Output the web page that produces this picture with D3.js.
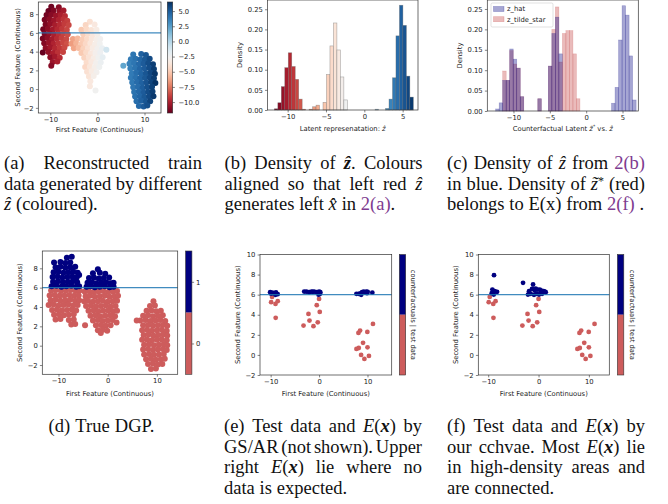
<!DOCTYPE html>
<html>
<head>
<meta charset="UTF-8">
<title>Latent space figure</title>
<style>
  body { margin: 0; background: #fff; }
  svg { display: block; }
  .cap { font-family: "Liberation Serif", serif; font-size: 18.5px; fill: #111; }
  .lbl { font-family: "DejaVu Sans", sans-serif; font-size: 6.8px; fill: #222; }
</style>
<script src="https://cdn.jsdelivr.net/npm/d3@7"></script>
</head>
<body>
<script>
// ---------- data ----------
// panel (a): reconstructed train data, "x,y,z" with z = latent value used for colour
const aRed = `-9.8,8.8,-11.6 -8.2,8.75,-11.0
-10.4,8.35,-11.7 -9.3,8.4,-11.2 -8.0,8.3,-10.6 -7.2,8.4,-10.2
-10.8,7.9,-11.5 -9.8,7.95,-11.0 -8.8,7.85,-10.5 -7.8,7.9,-10.0 -6.9,7.8,-9.6
-11.2,7.4,-11.4 -10.2,7.45,-10.9 -9.2,7.35,-10.4 -8.2,7.4,-9.9 -7.2,7.45,-9.4 -6.4,7.3,-9.0
-11.0,6.9,-11.3 -10.0,6.95,-10.7 -9.0,6.85,-10.1 -8.0,6.9,-9.6 -7.0,6.95,-9.1 -6.1,6.85,-8.8
-11.5,6.4,-11.5 -10.5,6.45,-10.9 -9.5,6.35,-10.3 -8.5,6.4,-9.7 -7.5,6.45,-9.2 -6.5,6.35,-8.8
-11.2,5.9,-11.2 -10.2,5.95,-10.6 -9.2,5.85,-10.0 -8.2,5.9,-9.4 -7.2,5.95,-8.9 -6.3,5.85,-8.6
-11.6,5.4,-11.4 -10.6,5.45,-10.8 -9.6,5.35,-10.2 -8.6,5.4,-9.6 -7.6,5.45,-9.0 -6.6,5.35,-8.7
-11.3,4.9,-11.1 -10.3,4.95,-10.5 -9.3,4.85,-9.9 -8.3,4.9,-9.3 -7.3,4.95,-8.8 -6.5,4.85,-8.5
-11.0,4.4,-10.8 -10.0,4.45,-10.3 -9.0,4.35,-9.7 -8.0,4.4,-9.2 -7.0,4.45,-8.7
-11.6,3.9,-11.8 -10.4,3.95,-10.6 -9.4,3.85,-10.0 -8.4,3.9,-9.4 -7.3,3.95,-8.9
-10.0,3.4,-10.8 -9.0,3.45,-10.2 -8.0,3.35,-9.6
-9.5,2.9,-10.5 -8.5,2.95,-10.0 -9.8,2.5,-11.0`;
const aLight = `-1.6,7.2,-4.0 -2.5,6.85,-4.5 -0.6,6.9,-3.5
-3.4,6.35,-5.0 -2.3,6.4,-4.3 -1.3,6.3,-3.8 -0.2,6.35,-3.2
-3.0,5.85,-4.8 -2.0,5.9,-4.2 -1.0,5.8,-3.6 0.0,5.85,-3.0
-5.2,5.35,-6.3 -4.2,5.4,-5.6 -3.2,5.3,-4.9 -2.2,5.35,-4.3 -1.2,5.4,-3.6 -0.2,5.3,-3.0 0.6,5.35,-2.6
-5.5,4.85,-6.5 -4.5,4.9,-5.8 -3.5,4.8,-5.0 -2.5,4.85,-4.4 -1.5,4.9,-3.7 -0.5,4.8,-3.1 0.5,4.85,-2.5
-5.0,4.35,-6.2 -4.0,4.4,-5.5 -3.0,4.3,-4.7 -2.0,4.35,-4.0 -1.0,4.4,-3.3 0.0,4.3,-2.7 1.0,4.35,-2.1
-3.4,3.85,-5.0 -2.4,3.9,-4.3 -1.4,3.8,-3.6 -0.4,3.85,-2.9 0.6,3.9,-2.3
-2.8,3.35,-4.6 -1.8,3.4,-3.9 -0.8,3.3,-3.2 0.2,3.35,-2.5 1.1,3.4,-1.9
-2.3,2.85,-4.2 -1.3,2.9,-3.5 -0.3,2.8,-2.8 0.7,2.85,-2.2
-2.6,2.35,-4.4 -1.6,2.4,-3.7 -0.6,2.3,-3.0 0.4,2.35,-2.4
-2.2,1.85,-4.0 -1.2,1.9,-3.3 -0.2,1.8,-2.7
-1.8,1.35,-3.8 -0.8,1.4,-3.0 -1.5,0.85,-3.5
-1.6,0.3,-3.5 -0.4,-0.15,-2.5 1.9,4.2,-1.0`;
const aBlue = `7.6,3.7,4.0 9.3,3.75,4.8 10.3,3.65,5.2
7.1,3.2,3.8 8.1,3.25,4.2 9.1,3.15,4.6 10.1,3.2,5.1 11.1,3.25,5.6
6.8,2.7,3.6 7.8,2.75,4.0 8.8,2.65,4.5 9.8,2.7,5.0 10.8,2.75,5.5 11.8,2.65,6.0
7.0,2.2,3.7 8.0,2.25,4.1 9.0,2.15,4.6 10.0,2.2,5.0 11.0,2.25,5.5 12.0,2.15,6.1
7.3,1.7,3.8 8.3,1.75,4.3 9.3,1.65,4.7 10.3,1.7,5.2 11.3,1.75,5.7 12.2,1.65,6.3
7.1,1.2,3.8 8.1,1.25,4.2 9.1,1.15,4.7 10.1,1.2,5.1 11.1,1.25,5.6 12.0,1.15,6.1
7.4,0.7,3.9 8.4,0.75,4.4 9.4,0.65,4.8 10.4,0.7,5.3 11.4,0.75,5.8 12.3,0.65,6.4
7.6,0.2,4.0 8.6,0.25,4.4 9.6,0.15,4.9 10.6,0.2,5.4 11.6,0.25,5.9
7.8,-0.3,4.1 8.8,-0.25,4.5 9.8,-0.35,5.0 10.8,-0.3,5.5 11.7,-0.25,6.0
8.0,-0.8,4.2 9.0,-0.75,4.6 10.0,-0.85,5.1 11.0,-0.8,5.6 11.9,-0.75,6.2
8.3,-1.3,4.3 9.3,-1.25,4.8 10.3,-1.35,5.2 11.2,-1.3,5.8
8.8,-1.8,4.5 9.8,-1.85,5.0 10.6,-1.75,5.4 5.5,2.5,2.2`;

// panel (b): density of z_hat, 40 bins
const bBinStart = -11.73, bBinWidth = 0.453;
const bDensity = [0.003, 0.018, 0.058, 0.105, 0.142, 0.108, 0.076, 0.027, 0.002, 0,
  0.002, 0.008, 0.012, 0, 0.019, 0.088, 0.159, 0.216, 0.149, 0.082,
  0.025, 0, 0, 0, 0, 0, 0, 0, 0, 0.002,
  0, 0, 0.004, 0.027, 0.080, 0.184, 0.260, 0.210, 0.084, 0.032];

// panel (c): z_hat vs z_tilde_star, 40 bins
const cBinStart = -12.45, cBinWidth = 0.483;
const cZHat = [0.005, 0.02, 0.075, 0.075, 0.152, 0.127, 0.105, 0.035, 0, 0,
  0, 0, 0.03, 0, 0, 0.11, 0.19, 0.23, 0.14, 0,
  0, 0, 0, 0, 0, 0, 0, 0, 0, 0,
  0, 0, 0, 0.019, 0.058, 0.174, 0.258, 0.235, 0.135, 0.027];
const cZTilde = [0, 0, 0.098, 0.075, 0.148, 0.115, 0.105, 0.035, 0, 0,
  0, 0, 0.03, 0, 0, 0.11, 0.20, 0.255, 0.12, 0.19,
  0.197, 0.197, 0.14, 0.03, 0, 0, 0, 0, 0, 0,
  0, 0, 0, 0, 0, 0, 0, 0, 0, 0];
const cSeries = ["z_hat", "z_tilde_star"];

// panel (d): true DGP, "x,y"
const dLeft = `-8.3,9.1 -7.3,9.2 -10.9,8.6 -9.6,8.65 -8.6,8.55 -7.6,8.6
-10.6,8.1 -9.6,8.15 -8.6,8.05 -7.6,8.1 -6.6,8.15
-11.0,7.6 -10.0,7.65 -9.0,7.55 -8.0,7.6 -7.0,7.65 -6.1,7.55
-11.2,7.1 -10.2,7.15 -9.2,7.05 -8.2,7.1 -7.2,7.15 -6.3,7.05 -5.8,7.3
-11.1,6.6 -10.1,6.65 -9.1,6.55 -8.1,6.6 -7.1,6.65 -6.2,6.55
-11.4,6.15 -10.4,6.2 -9.4,6.1 -8.4,6.15 -7.4,6.2 -6.4,6.1 -5.8,6.15
-11.5,5.7 -10.5,5.75 -9.5,5.65 -8.5,5.7 -7.5,5.75 -6.5,5.65 -5.7,5.7
-11.8,5.2 -10.8,5.25 -9.8,5.15 -8.8,5.2 -7.8,5.25 -6.8,5.15 -5.9,5.2
-11.6,4.7 -10.6,4.75 -9.6,4.65 -8.6,4.7 -7.6,4.75 -6.6,4.65 -5.8,4.7
-12.0,4.2 -11.0,4.25 -10.0,4.15 -9.0,4.2 -8.0,4.25 -7.0,4.15 -6.1,4.2
-11.3,3.7 -10.3,3.75 -9.3,3.65 -8.3,3.7 -7.3,3.75 -6.4,3.65
-10.9,3.2 -9.9,3.25 -8.9,3.15 -7.9,3.2 -6.9,3.25
-10.6,2.7 -9.6,2.75 -7.9,2.65 -6.9,2.7 -7.4,2.2 -6.6,2.25`;
const dMid = `-2.0,7.9 -3.0,7.5 -1.6,7.55 -0.5,7.45
-3.8,7.0 -2.8,7.05 -1.8,6.95 -0.8,7.0 0.3,7.05
-4.1,6.5 -3.2,6.55 -2.3,6.45 -1.3,6.5 -0.3,6.55 0.6,6.45 1.2,6.5
-4.3,6.1 -3.5,6.15 -2.6,6.05 -1.6,6.1 -0.6,6.15 0.4,6.05 1.2,6.1
-4.7,5.6 -3.9,5.65 -2.9,5.55 -1.9,5.6 -0.9,5.65 0.1,5.55 1.1,5.6 1.9,5.65
-4.5,5.1 -3.6,5.15 -2.6,5.05 -1.6,5.1 -0.6,5.15 0.4,5.05 1.4,5.1 2.1,5.15
-4.8,4.6 -4.0,4.65 -3.0,4.55 -2.0,4.6 -1.0,4.65 0.0,4.55 1.0,4.6 1.9,4.65
-4.4,4.1 -3.4,4.15 -2.4,4.05 -1.4,4.1 -0.4,4.15 0.6,4.05 1.6,4.1
-3.9,3.6 -2.9,3.65 -1.9,3.55 -0.9,3.6 0.1,3.65 1.1,3.55 1.9,3.6
-3.5,3.1 -2.5,3.15 -1.5,3.05 -0.5,3.1 0.5,3.15 1.5,3.05
-3.0,2.6 -2.0,2.65 -1.0,2.55 0.0,2.6 1.0,2.65 1.8,2.4
-4.6,2.1 -2.4,2.1 -1.4,2.15 -0.4,2.05 0.6,2.1
-2.0,1.6 -1.0,1.65 -0.1,1.55 -1.4,1.3`;
const dRight = `9.3,4.6 8.6,4.1 9.6,4.15
7.9,3.6 8.9,3.65 9.9,3.55 10.8,3.6
7.2,3.1 8.2,3.15 9.2,3.05 10.2,3.1 11.2,3.15
6.6,2.6 7.7,2.65 8.7,2.55 9.7,2.6 10.7,2.65 11.7,2.55 5.9,2.6
7.2,2.1 8.2,2.15 9.2,2.05 10.2,2.1 11.2,2.15 12.1,2.05
7.0,1.6 8.0,1.65 9.0,1.55 10.0,1.6 11.0,1.65 12.0,1.55
7.3,1.1 8.3,1.15 9.3,1.05 10.3,1.1 11.3,1.15 12.1,1.05
7.0,0.6 8.0,0.65 9.0,0.55 10.0,0.6 11.0,0.65 12.0,0.55
7.4,0.1 8.4,0.15 9.4,0.05 10.4,0.1 11.4,0.15 12.1,0.05
7.2,-0.4 8.2,-0.35 9.2,-0.45 10.2,-0.4 11.2,-0.35 12.0,-0.45
7.4,-0.9 8.4,-0.85 9.4,-0.95 10.4,-0.9 11.4,-0.85
7.8,-1.4 8.8,-1.35 9.8,-1.45 10.8,-1.4 11.6,-1.35
8.2,-1.9 9.2,-1.85 10.2,-1.95 11.1,-1.9 8.8,-2.4 9.8,-2.35`;
const threshold = 6;

// panels (e), (f): test data (same in both) and counterfactuals
const testData = [[-9.7,5.78],[-9.9,5.25],[-9.0,5.08],[-8.54,5.35],[-8.96,3.69],
  [0.0,5.58],[-0.48,4.95],[0.14,4.28],[-2.19,4.08],[-1.98,3.42],[-3.21,2.92],[-1.16,2.86],[-0.27,3.25],
  [11.13,3.09],[8.13,2.19],[8.47,2.42],[9.97,2.29],[9.08,1.2],[7.72,0.6],[8.2,0.69],[10.0,0.76],
  [8.68,0.0],[9.36,-0.4],[10.3,-0.1]];
const cfGSAR = [[-10.1,6.25],[-9.6,6.2],[-9.2,6.12],[-8.9,6.22],[-8.55,6.05],[-9.9,6.1],[-9.0,5.98],
  [-3.07,6.31],[-2.6,6.3],[-2.05,6.25],[-1.57,6.31],[-1.02,6.3],[-0.48,6.25],[0.0,6.31],[0.2,6.08],
  [-0.1,6.0],[-1.3,6.28],[0.25,6.25],
  [7.72,6.08],[8.2,6.08],[8.54,6.12],[8.88,6.25],[9.22,6.31],[9.77,6.31],[10.04,6.28],[11.0,6.2],
  [9.5,6.2],[8.7,5.98],[9.9,6.15]];
const cfCCHVAE = [[-8.85,7.94],[-9.17,6.51],[-8.7,6.34],[-8.24,6.28],[-8.9,6.01],[-9.3,6.15],
  [-3.08,7.18],[-1.09,7.01],[-1.89,6.34],[-1.29,6.58],[-0.76,6.41],[-0.23,6.51],[0.24,6.51],
  [0.57,6.41],[1.03,6.34],[1.43,6.24],[-2.1,6.01],[-1.56,6.08],[-0.9,5.98],[-0.37,6.08],
  [0.1,6.01],[0.7,6.08],[1.23,6.3],[-0.57,6.61],[0.43,6.24]];

// ticks
const featXTicks = [-10, 0, 10];
const featYTicks = [-2, 0, 2, 4, 6, 8];
const efYTicks = [-2, 0, 2, 4, 6, 8, 10];
const latentXTicks = [-10, -5, 0, 5];
const densTicks = [0, 0.05, 0.10, 0.15, 0.20, 0.25];
const cbarTicks = [5, 2.5, 0, -2.5, -5, -7.5, -10];

// captions: <i> italic, <b> bold italic, <l> link, <s> superscript
const capTop = [
  {x0: 4, x1: 202, lines: [["(a)", "Reconstructed", "train"], ["data", "generated", "by", "different"], ["<i>z\u0302</i>", "(coloured)."]]},
  {x0: 224.5, x1: 422.5, lines: [["(b)", "Density", "of", "<b>z\u0302</b>.", "Colours"], ["aligned", "so", "that", "left", "red", "<i>z\u0302</i>"], ["generates", "left", "<i>x\u0302</i>", "in", "<l>2(a)</l>."]]},
  {x0: 447, x1: 645, lines: [["(c)", "Density", "of", "<i>z\u0302</i>", "from", "<l>2(b)</l>"], ["in", "blue.", "Density", "of", "<i>z\u0303</i><s>*</s>", "(red)"], ["belongs", "to", "E(x)", "from", "<l>2(f)</l>", "."]]}
];
const capBottom = [
  {x0: 224, x1: 422, lines: [["(e)", "Test", "data", "and", "<i>E</i>(<b>x</b>)", "by"], ["GS/AR", "(not", "shown).", "Upper"], ["right", "<i>E</i>(<b>x</b>)", "lie", "where", "no"], ["data", "is", "expected."]]},
  {x0: 447, x1: 645, lines: [["(f)", "Test", "data", "and", "<i>E</i>(<b>x</b>)", "by"], ["our", "cchvae.", "Most", "<i>E</i>(<b>x</b>)", "lie"], ["in", "high-density", "areas", "and"], ["are", "connected."]]}
];

// ---------- drawing ----------
const parsePts = s => s.trim().split(/\s+/).map(p => p.split(',').map(Number));
const NAVY = "#000080", IRED = "#cd5c5c", C0 = "#1f77b4";

const svg = d3.select('body').append('svg').attr('width', 668).attr('height', 504);

function frame(x, y) {
  const [x0, x1] = x.range(), [y0, y1] = [y.range()[1], y.range()[0]];
  svg.append('rect').attr('x', x0).attr('y', y0).attr('width', x1 - x0).attr('height', y1 - y0)
    .attr('fill', 'none').attr('stroke', '#333').attr('stroke-width', 0.7);
}
function styleAxis(g) {
  g.select('.domain').remove();
  g.selectAll('.tick line').attr('stroke', '#333').attr('stroke-width', 0.6);
  g.selectAll('.tick text').attr('class', 'lbl').attr('fill', null);
}
function axes(x, y, xt, yt, yfmt) {
  svg.append('g').attr('transform', `translate(0,${y.range()[0]})`)
    .call(d3.axisBottom(x).tickValues(xt).tickSize(2.4).tickPadding(1.6)).call(styleAxis);
  const ya = d3.axisLeft(y).tickValues(yt).tickSize(2.4).tickPadding(2.2);
  if (yfmt) ya.tickFormat(d3.format(yfmt));
  svg.append('g').attr('transform', `translate(${x.range()[0]},0)`).call(ya).call(styleAxis);
}
// parts: [text, italic, superscript]
function xlabel(x, ypos, parts) {
  const t = svg.append('text').attr('class', 'lbl').attr('x', (x.range()[0] + x.range()[1]) / 2)
    .attr('y', ypos).attr('text-anchor', 'middle').attr('dy', '0.35em');
  let up = false;
  parts.forEach(p => {
    const s = t.append('tspan').text(p[0]);
    if (p[1]) s.attr('font-style', 'italic');
    if (p[2]) { s.attr('font-size', '4.6px').attr('dy', -2.5); up = true; }
    else if (up) { s.attr('dy', 2.5); up = false; }
  });
}
function ylabel(xpos, y, txt) {
  const yc = (y.range()[0] + y.range()[1]) / 2;
  svg.append('text').attr('class', 'lbl').attr('transform', `translate(${xpos},${yc}) rotate(-90)`)
    .attr('text-anchor', 'middle').attr('dy', '0.35em').text(txt);
}
function hline(x, y, v) {
  svg.append('line').attr('x1', x.range()[0]).attr('x2', x.range()[1]).attr('y1', y(v)).attr('y2', y(v))
    .attr('stroke', C0).attr('stroke-width', 1.2).attr('stroke-opacity', 0.85);
}

// ---- (a) ----
{
  const x = d3.scaleLinear().domain([-12.55, 13.5]).range([38.3, 161]);
  const y = d3.scaleLinear().domain([-2.55, 9.3]).range([113, 2]);
  const col = d3.scaleSequential(d3.interpolateRdBu).domain([-11.8, 6.5]);
  const pts = [...parsePts(aRed), ...parsePts(aLight), ...parsePts(aBlue)];
  svg.append('g').selectAll('circle').data(pts).join('circle')
    .attr('cx', d => x(d[0])).attr('cy', d => y(d[1])).attr('r', 3).attr('fill', d => col(d[2]));
  hline(x, y, threshold);
  frame(x, y);
  axes(x, y, featXTicks, featYTicks);
  xlabel(x, 130, [["First Feature (Continuous)"]]);
  ylabel(18, y, "Second Feature (Continuous)");
  // colorbar
  const cy = d3.scaleLinear().domain(col.domain()).range([113, 2]);
  const grad = svg.append('defs').append('linearGradient').attr('id', 'rdbu')
    .attr('x1', 0).attr('y1', 1).attr('x2', 0).attr('y2', 0);
  d3.range(0, 1.0001, 0.05).forEach(t => grad.append('stop').attr('offset', t).attr('stop-color', d3.interpolateRdBu(t)));
  svg.append('rect').attr('x', 167.3).attr('y', 2).attr('width', 5.4).attr('height', 111)
    .attr('fill', 'url(#rdbu)').attr('stroke', '#333').attr('stroke-width', 0.6);
  svg.append('g').attr('transform', 'translate(172.7,0)')
    .call(d3.axisRight(cy).tickValues(cbarTicks).tickFormat(d3.format('.1f')).tickSize(2.2).tickPadding(3.5))
    .call(styleAxis);
}

// ---- (b) ----
{
  const x = d3.scaleLinear().domain([-12.64, 7.0]).range([267.4, 418]);
  const y = d3.scaleLinear().domain([0, 0.273]).range([110, 0]);
  const col = d3.scaleSequential(d3.interpolateRdBu).domain([-11.8, 6.5]);
  const bins = bDensity.map((d, k) => ({x0: bBinStart + k * bBinWidth, x1: bBinStart + (k + 1) * bBinWidth, d}))
    .filter(b => b.d > 0);
  svg.append('g').selectAll('rect').data(bins).join('rect')
    .attr('x', b => x(b.x0)).attr('width', b => x(b.x1) - x(b.x0))
    .attr('y', b => y(b.d)).attr('height', b => y(0) - y(b.d))
    .attr('fill', b => col((b.x0 + b.x1) / 2)).attr('stroke', '#666').attr('stroke-opacity', 0.55).attr('stroke-width', 0.6);
  frame(x, y);
  axes(x, y, latentXTicks, densTicks, '.2f');
  xlabel(x, 128.3, [["Latent represenatation: "], ["z\u0302", true]]);
  ylabel(240, y, "Density");
}

// ---- (c) ----
{
  const x = d3.scaleLinear().domain([-13.6, 7.17]).range([487.3, 638.3]);
  const y = d3.scaleLinear().domain([0, 0.272]).range([111, 0]);
  const styles = {z_hat: {c: NAVY, a: 0.35}, z_tilde_star: {c: IRED, a: 0.42}};
  const series = {z_hat: cZHat, z_tilde_star: cZTilde};
  ["z_tilde_star", "z_hat"].forEach(name => {
    const bins = series[name].map((d, k) => ({x0: cBinStart + k * cBinWidth, x1: cBinStart + (k + 1) * cBinWidth, d}))
      .filter(b => b.d > 0);
    svg.append('g').selectAll('rect').data(bins).join('rect')
      .attr('x', b => x(b.x0)).attr('width', b => x(b.x1) - x(b.x0))
      .attr('y', b => y(b.d)).attr('height', b => y(0) - y(b.d))
      .attr('fill', styles[name].c).attr('fill-opacity', styles[name].a)
      .attr('stroke', styles[name].c).attr('stroke-opacity', styles[name].a * 0.8).attr('stroke-width', 0.6);
  });
  frame(x, y);
  axes(x, y, latentXTicks, densTicks, '.2f');
  xlabel(x, 128.3, [["Counterfactual Latent "], ["z\u0303", true], ["*", false, true], [" vs. "], ["z\u0302", true]]);
  ylabel(460, y, "Density");
  // legend
  const lg = svg.append('g');
  lg.append('rect').attr('x', 491).attr('y', 3).attr('width', 62).attr('height', 24).attr('rx', 1.5)
    .attr('fill', '#fff').attr('fill-opacity', 0.8).attr('stroke', '#ccc').attr('stroke-width', 0.6);
  cSeries.forEach((name, i) => {
    lg.append('rect').attr('x', 493.5).attr('y', 6.5 + i * 10.2).attr('width', 10.5).attr('height', 5)
      .attr('fill', styles[name].c).attr('fill-opacity', styles[name].a)
      .attr('stroke', styles[name].c).attr('stroke-opacity', styles[name].a).attr('stroke-width', 0.6);
    lg.append('text').attr('class', 'lbl').attr('x', 507).attr('y', 9 + i * 10.2).attr('dy', '0.35em').text(name);
  });
}

// ---- (d) ----
{
  const x = d3.scaleLinear().domain([-13.29, 14.23]).range([42.3, 177.7]);
  const y = d3.scaleLinear().domain([-2.96, 9.79]).range([374.3, 251]);
  const pts = [...parsePts(dLeft), ...parsePts(dMid), ...parsePts(dRight)];
  const lab = d => d[1] > threshold ? 1 : 0;
  svg.append('g').selectAll('circle').data(pts.filter(d => !lab(d))).join('circle')
    .attr('cx', d => x(d[0])).attr('cy', d => y(d[1])).attr('r', 3).attr('fill', IRED);
  svg.append('g').selectAll('circle').data(pts.filter(d => lab(d))).join('circle')
    .attr('cx', d => x(d[0])).attr('cy', d => y(d[1])).attr('r', 3).attr('fill', NAVY);
  hline(x, y, threshold);
  frame(x, y);
  axes(x, y, featXTicks, featYTicks);
  xlabel(x, 393.3, [["First Feature (Continuous)"]]);
  ylabel(20, y, "Second Feature (Continuous)");
  const cb = d3.scaleLinear().domain([0, 2]).range([374.3, 251]);
  svg.append('rect').attr('x', 185.6).attr('y', cb(2)).attr('width', 6.3).attr('height', cb(1) - cb(2)).attr('fill', NAVY);
  svg.append('rect').attr('x', 185.6).attr('y', cb(1)).attr('width', 6.3).attr('height', cb(0) - cb(1)).attr('fill', IRED);
  svg.append('rect').attr('x', 185.6).attr('y', cb(2)).attr('width', 6.3).attr('height', cb(0) - cb(2))
    .attr('fill', 'none').attr('stroke', '#333').attr('stroke-width', 0.6);
  svg.append('g').attr('transform', 'translate(191.9,0)')
    .call(d3.axisRight(cb).tickValues([0.5, 1.5]).tickFormat(v => v < 1 ? "0" : "1").tickSize(2.2).tickPadding(1.8))
    .call(styleAxis);
}

// ---- (e), (f) ----
function cfPanel(xdom, xr, cf, cbx, lblx) {
  const x = d3.scaleLinear().domain(xdom).range(xr);
  const y = d3.scaleLinear().domain([-2, 10]).range([375, 254.5]);
  svg.append('g').selectAll('circle').data(testData).join('circle')
    .attr('cx', d => x(d[0])).attr('cy', d => y(d[1])).attr('r', 2.4).attr('fill', IRED);
  svg.append('g').selectAll('circle').data(cf).join('circle')
    .attr('cx', d => x(d[0])).attr('cy', d => y(d[1])).attr('r', 2.4).attr('fill', NAVY);
  hline(x, y, threshold);
  frame(x, y);
  axes(x, y, featXTicks, efYTicks);
  xlabel(x, 393.3, [["First Feature (Continuous)"]]);
  ylabel(xr[0] - 22.5, y, "Second Feature (Continuous)");
  const mid = (375 + 254.5) / 2;
  svg.append('rect').attr('x', cbx).attr('y', 254.5).attr('width', 6.4).attr('height', mid - 254.5).attr('fill', NAVY);
  svg.append('rect').attr('x', cbx).attr('y', mid).attr('width', 6.4).attr('height', 375 - mid).attr('fill', IRED);
  svg.append('rect').attr('x', cbx).attr('y', 254.5).attr('width', 6.4).attr('height', 120.5)
    .attr('fill', 'none').attr('stroke', '#333').attr('stroke-width', 0.6);
  svg.append('text').attr('class', 'lbl').attr('transform', `translate(${lblx},${mid}) rotate(90)`)
    .attr('text-anchor', 'middle').attr('dy', '0.35em').text("counterfactuals | test data");
}
cfPanel([-12.2, 15.0], [260, 391.7], cfGSAR, 399.3, 413);
cfPanel([-11.97, 14.06], [478.3, 609.3], cfCCHVAE, 617.4, 632.5);

// ---------- captions ----------
function addWord(w, y) {
  const t = svg.append('text').attr('class', 'cap').attr('x', 0).attr('y', y);
  const re = /<(i|b|l|s)>(.*?)<\/\1>/g;
  let last = 0, m, shifted = false;
  const put = (txt, c) => {
    const s = t.append('tspan').text(txt);
    if (shifted) { s.attr('dy', '0.4em'); shifted = false; }
    if (c === 'i') s.attr('font-style', 'italic');
    if (c === 'b') s.attr('font-style', 'italic').attr('font-weight', 'bold');
    if (c === 'l') s.attr('fill', '#7e3b8f');
    if (c === 's') { s.attr('font-size', '12px').attr('dy', '-0.4em'); shifted = true; }
  };
  while ((m = re.exec(w))) {
    if (m.index > last) put(w.slice(last, m.index), '');
    put(m[2], m[1]);
    last = re.lastIndex;
  }
  if (last < w.length) put(w.slice(last), '');
  return t;
}
function layLine(words, x0, x1, y, justify) {
  const nodes = words.map(w => addWord(w, y));
  const widths = nodes.map(n => n.node().getComputedTextLength());
  const gap = justify ? (x1 - x0 - d3.sum(widths)) / (words.length - 1) : 4.8;
  let xp = x0;
  nodes.forEach((n, i) => { n.attr('x', xp); xp += widths[i] + gap; });
}
function caption(c, y0) {
  c.lines.forEach((ln, i) => layLine(ln, c.x0, c.x1, y0 + i * 20.8, i < c.lines.length - 1));
}
capTop.forEach(c => caption(c, 168.7));
capBottom.forEach(c => caption(c, 431.7));
// (d) single centred line
{
  const ws = ["(d)", "True", "DGP."];
  const nodes = ws.map(w => addWord(w, 431.7));
  const widths = nodes.map(n => n.node().getComputedTextLength());
  const total = d3.sum(widths) + 2 * 5.2;
  let xp = 101.5 - total / 2;
  nodes.forEach((n, i) => { n.attr('x', xp); xp += widths[i] + 5.2; });
}
</script>
</body>
</html>
